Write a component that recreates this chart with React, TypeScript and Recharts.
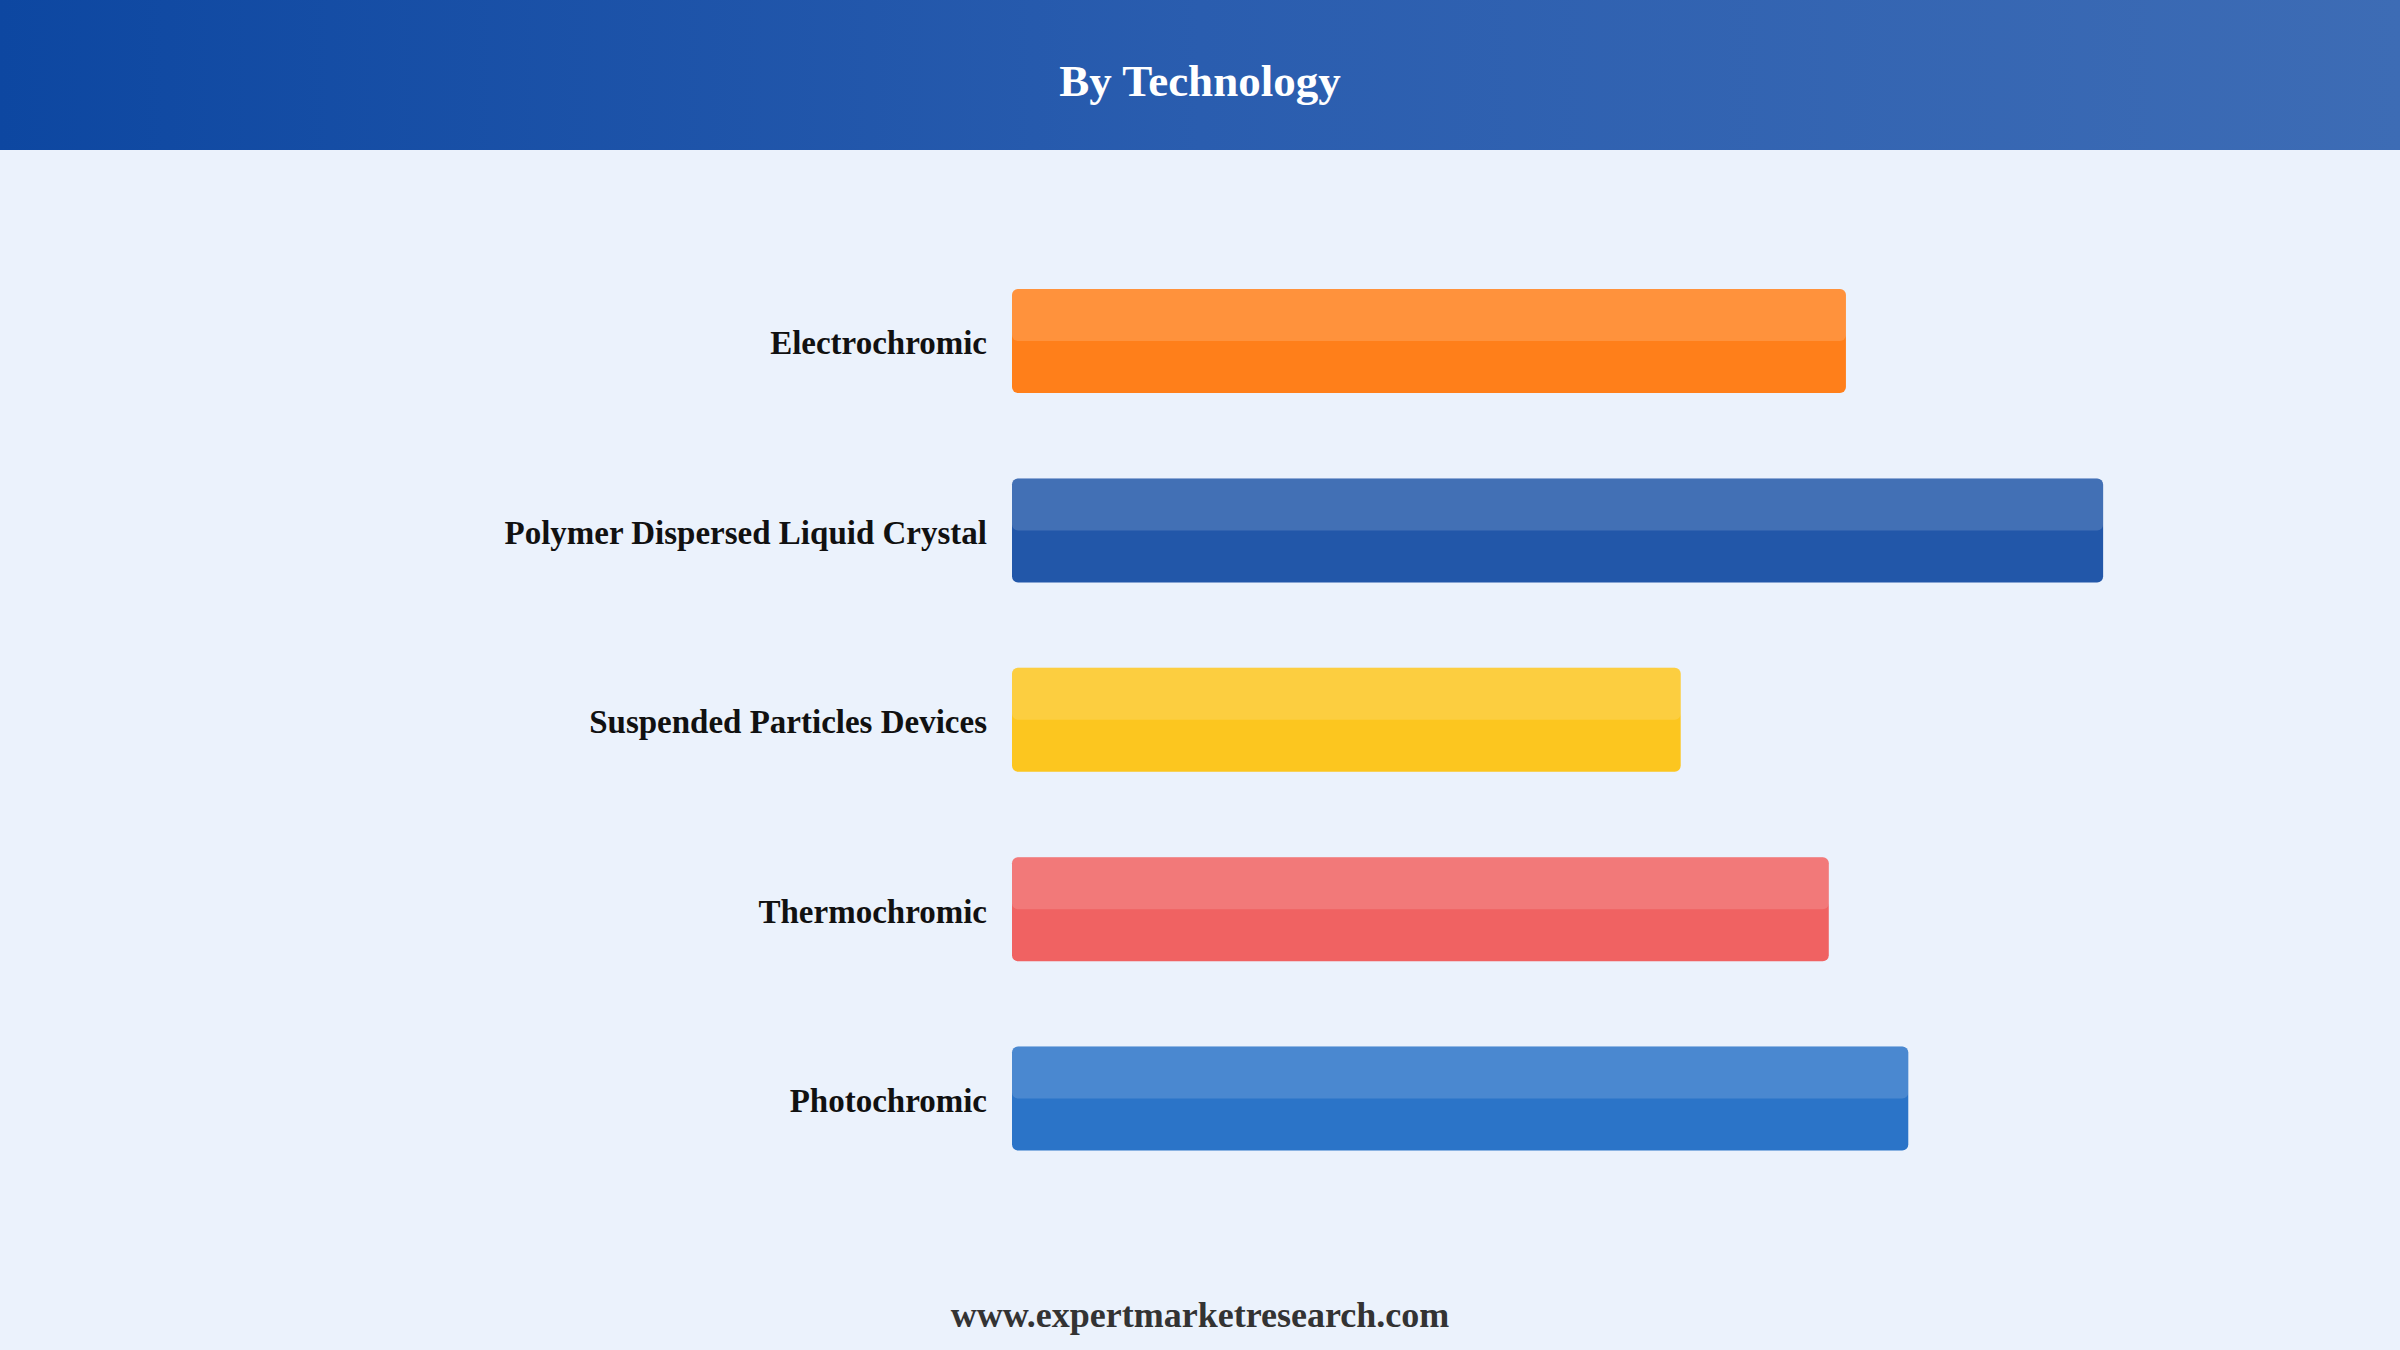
import React from 'react';
import { BarChart, Bar, XAxis, YAxis, Cell } from 'recharts';

// Technology segments and their relative share (no axis shown in the source)
const categories = [
  'Electrochromic',
  'Polymer Dispersed Liquid Crystal',
  'Suspended Particles Devices',
  'Thermochromic',
  'Photochromic',
];
const values = [26.75, 35, 21.45, 26.2, 28.75];
const colors = ['#FF7F1A', '#2257A9', '#FCC61F', '#F06262', '#2B74C8'];

const data = categories.map((name, i) => ({ name, value: values[i] }));

const serif = '"Liberation Serif", "Times New Roman", serif';

// two-tone bar: base colour with a lighter top half
const GlossBar = (props: any) => {
  const { x, y, width, height, fill } = props;
  if (!width || width <= 0) return null;
  return (
    <g>
      <rect x={x} y={y} width={width} height={height} rx={6} ry={6} fill={fill} />
      <rect x={x} y={y} width={width} height={height / 2} rx={6} ry={6} fill="#ffffff" fillOpacity={0.15} />
    </g>
  );
};

const App: React.FC = () => {
  return (
    <div
      style={{
        position: 'absolute',
        left: 0,
        top: 0,
        width: 2400,
        height: 1350,
        background: '#EBF2FC',
        overflow: 'hidden',
        fontFamily: serif,
      }}
    >
      <div
        style={{
          position: 'absolute',
          left: 0,
          top: 0,
          width: 2400,
          height: 150,
          background: 'linear-gradient(90deg, #0D47A1 0%, #2A5DAF 50%, #3D6CB5 100%)',
        }}
      />
      <div
        style={{
          position: 'absolute',
          left: 0,
          top: 0,
          width: 2400,
          height: 162,
          lineHeight: '162px',
          textAlign: 'center',
          color: '#ffffff',
          fontWeight: 'bold',
          fontSize: 45,
        }}
      >
        By Technology
      </div>

      <div style={{ position: 'absolute', left: 0, top: 0 }}>
        <BarChart
          width={2400}
          height={1350}
          data={data}
          layout="vertical"
          margin={{ top: 246, right: 141, bottom: 157, left: 0 }}
        >
          <XAxis type="number" domain={[0, 40]} hide />
          <YAxis
            type="category"
            dataKey="name"
            width={1012}
            axisLine={false}
            tickLine={false}
            tickSize={0}
            tickMargin={25}
            tick={{ fill: '#111111', fontSize: 33, fontWeight: 'bold', fontFamily: serif, dy: 2 }}
          />
          <Bar dataKey="value" barSize={104} shape={<GlossBar />} isAnimationActive={false}>
            {data.map((d, i) => (
              <Cell key={d.name} fill={colors[i]} />
            ))}
          </Bar>
        </BarChart>
      </div>

      <div
        style={{
          position: 'absolute',
          left: 0,
          top: 1289,
          width: 2400,
          height: 52,
          lineHeight: '52px',
          textAlign: 'center',
          color: '#333333',
          fontWeight: 'bold',
          fontSize: 36,
        }}
      >
        www.expertmarketresearch.com
      </div>
    </div>
  );
};

export default App;
